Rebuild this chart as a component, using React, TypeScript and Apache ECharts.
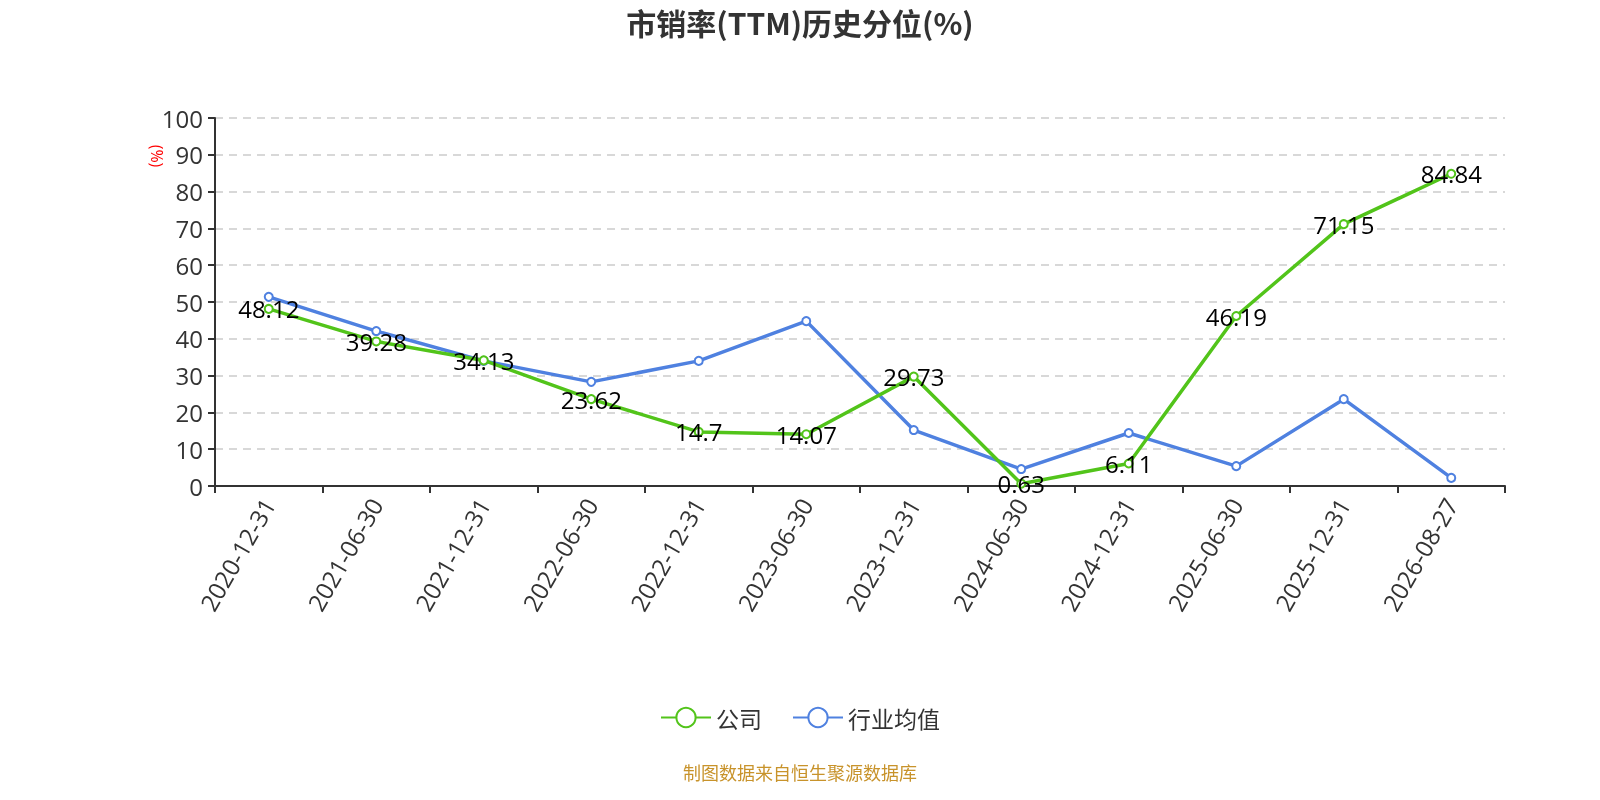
import React, { useEffect, useRef } from "react";
import * as echarts from "echarts";

const categories = [
  "2020-12-31", "2021-06-30", "2021-12-31", "2022-06-30", "2022-12-31", "2023-06-30",
  "2023-12-31", "2024-06-30", "2024-12-31", "2025-06-30", "2025-12-31", "2026-08-27",
];
const companyValues = [48.12, 39.28, 34.13, 23.62, 14.7, 14.07, 29.73, 0.63, 6.11, 46.19, 71.15, 84.84];
const industryValues = [51.4, 42.1, 34.0, 28.3, 34.0, 44.8, 15.2, 4.6, 14.4, 5.4, 23.6, 2.2];
const yTicks = { min: 0, max: 100, interval: 10 };

export default function App() {
  const ref = useRef<HTMLDivElement>(null);
  useEffect(() => {
    const chart = echarts.init(ref.current!, null, { renderer: "svg" });
    const font = "'Open Sans', 'Noto Sans CJK SC', sans-serif";
    const cjk = "'Noto Sans CJK SC', 'Open Sans', sans-serif";
    chart.setOption({
      animation: false,
      textStyle: { fontFamily: font },
      title: {
        text: "市销率(TTM)历史分位(%)",
        left: "center",
        top: 2,
        textStyle: { fontSize: 30, fontWeight: "bold", color: "#333", fontFamily: cjk },
      },
      legend: {
        bottom: 66,
        left: "center",
        itemWidth: 50,
        itemHeight: 24,
        itemGap: 30,
        textStyle: { fontSize: 23, color: "#333", fontFamily: cjk },
        data: ["公司", "行业均值"],
      },
      graphic: [
        {
          type: "text",
          left: "center",
          top: 763,
          style: { text: "制图数据来自恒生聚源数据库", fill: "#c8932b", fontSize: 18, fontFamily: cjk },
        },
        {
          type: "text",
          x: 157,
          y: 156,
          rotation: -Math.PI / 2,
          style: { text: "(%)", fill: "#ff0000", fontSize: 16, fontFamily: font, align: "center", verticalAlign: "middle" },
        },
      ],
      grid: { left: 215, right: 95, top: 118, bottom: 314 },
      xAxis: {
        type: "category",
        data: categories,
        boundaryGap: true,
        axisLine: { lineStyle: { color: "#333", width: 2 } },
        axisTick: { show: true, length: 7, lineStyle: { color: "#333", width: 2 } },
        axisLabel: { rotate: 60, fontSize: 24, color: "#333", margin: 14, interval: 0, fontFamily: font },
        splitLine: { show: false },
      },
      yAxis: {
        type: "value",
        min: yTicks.min,
        max: yTicks.max,
        interval: yTicks.interval,
        axisLine: { show: true, lineStyle: { color: "#333", width: 2 } },
        axisTick: { show: true, length: 7, lineStyle: { color: "#333", width: 2 } },
        axisLabel: { fontSize: 24, color: "#333", margin: 12, fontFamily: font },
        splitLine: { show: true, lineStyle: { color: "#ccc", type: [8, 6], width: 1.5 } },
      },
      series: [
        {
          name: "公司",
          type: "line",
          data: companyValues,
          symbol: "emptyCircle",
          symbolSize: 8,
          itemStyle: { color: "#52c41a", borderWidth: 2 },
          lineStyle: { width: 3.5, color: "#52c41a" },
          label: { show: true, position: "inside", fontSize: 24, color: "#000", fontFamily: font },
          z: 3,
        },
        {
          name: "行业均值",
          type: "line",
          data: industryValues,
          symbol: "emptyCircle",
          symbolSize: 8,
          itemStyle: { color: "#4f81e0", borderWidth: 2 },
          lineStyle: { width: 3.5, color: "#4f81e0" },
          z: 2,
        },
      ],
    });
    return () => chart.dispose();
  }, []);
  return <div ref={ref} style={{ position: "fixed", left: 0, top: 0, width: 1600, height: 800 }} />;
}
